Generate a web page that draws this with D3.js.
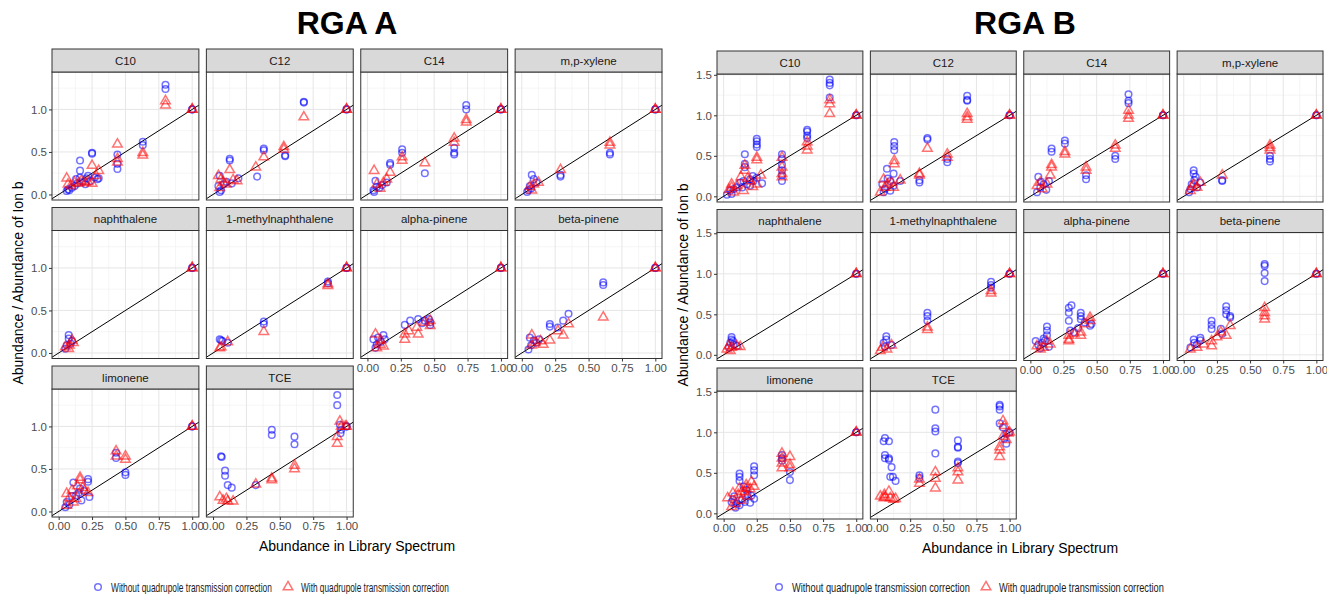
<!DOCTYPE html>
<html>
<head>
<meta charset="utf-8">
<script src="https://cdn.jsdelivr.net/npm/d3@7"></script>
<style>
  body { margin: 0; background: #fff; }
  text { font-family: "Liberation Sans", Arial, sans-serif; }
</style>
</head>
<body>
<div id="chart-area"></div>
<script>
// facets, in facet_wrap order
const panels = ["C10", "C12", "C14", "m,p-xylene", "naphthalene", "1-methylnaphthalene",
  "alpha-pinene", "beta-pinene", "limonene", "TCE"]
const chartTitles = ["RGA A", "RGA B"]
const seriesNames = ["Without quadrupole transmission correction", "With quadrupole transmission correction"]
const xTicks = [0, 0.25, 0.5, 0.75, 1]
const yTicksA = [0, 0.5, 1]
const yTicksB = [0, 0.5, 1, 1.5]

// [panel, abundance in library spectrum, abundance / abundance of ion b]
const rgaA_without = [
  ["C10",0.06,0.04],["C10",0.07,0.06],["C10",0.08,0.05],["C10",0.10,0.08],["C10",0.12,0.10],["C10",0.13,0.18],["C10",0.14,0.13],["C10",0.16,0.40],["C10",0.16,0.28],["C10",0.16,0.20],["C10",0.18,0.15],["C10",0.20,0.12],["C10",0.21,0.19],["C10",0.22,0.22],["C10",0.24,0.16],["C10",0.25,0.49],["C10",0.25,0.48],["C10",0.27,0.20],["C10",0.29,0.18],["C10",0.30,0.19],["C10",0.44,0.47],["C10",0.44,0.36],["C10",0.44,0.30],["C10",0.63,0.62],["C10",0.63,0.58],["C10",0.80,1.29],["C10",0.80,1.24],["C10",1,1],["C10",1,1],
  ["C12",0.68,1.09],["C12",0.68,1.08],["C12",0.38,0.54],["C12",0.38,0.52],["C12",0.33,0.21],["C12",0.54,0.46],["C12",0.54,0.45],["C12",0.125,0.42],["C12",0.125,0.40],["C12",0.05,0.22],["C12",0.04,0.10],["C12",0.06,0.05],["C12",0.05,0.03],["C12",0.08,0.12],["C12",0.10,0.15],["C12",0.19,0.19],["C12",0.14,0.13],["C12",1,1],["C12",1,1],
  ["C14",0.74,1.05],["C14",0.74,1.00],["C14",0.65,0.55],["C14",0.65,0.49],["C14",0.65,0.47],["C14",0.43,0.25],["C14",0.26,0.53],["C14",0.26,0.49],["C14",0.17,0.37],["C14",0.17,0.35],["C14",0.06,0.16],["C14",0.07,0.09],["C14",0.045,0.05],["C14",0.11,0.11],["C14",0.145,0.14],["C14",0.09,0.08],["C14",0.05,0.03],["C14",1,1],["C14",1,1],
  ["m,p-xylene",0.66,0.49],["m,p-xylene",0.66,0.47],["m,p-xylene",0.29,0.23],["m,p-xylene",0.29,0.21],["m,p-xylene",0.075,0.23],["m,p-xylene",0.09,0.18],["m,p-xylene",0.06,0.10],["m,p-xylene",0.05,0.05],["m,p-xylene",0.11,0.14],["m,p-xylene",0.07,0.07],["m,p-xylene",0.04,0.03],["m,p-xylene",1,1],["m,p-xylene",1,1],
  ["naphthalene",0.075,0.21],["naphthalene",0.075,0.17],["naphthalene",0.06,0.09],["naphthalene",0.10,0.14],["naphthalene",0.05,0.05],["naphthalene",0.09,0.11],["naphthalene",1,1],["naphthalene",1,1],
  ["1-methylnaphthalene",0.86,0.84],["1-methylnaphthalene",0.86,0.82],["1-methylnaphthalene",0.38,0.37],["1-methylnaphthalene",0.38,0.34],["1-methylnaphthalene",0.05,0.16],["1-methylnaphthalene",0.06,0.15],["1-methylnaphthalene",0.07,0.14],["1-methylnaphthalene",0.11,0.12],["1-methylnaphthalene",1,1],["1-methylnaphthalene",1,1],
  ["alpha-pinene",0.28,0.33],["alpha-pinene",0.32,0.38],["alpha-pinene",0.38,0.40],["alpha-pinene",0.41,0.35],["alpha-pinene",0.43,0.38],["alpha-pinene",0.46,0.40],["alpha-pinene",0.47,0.36],["alpha-pinene",0.47,0.33],["alpha-pinene",0.045,0.16],["alpha-pinene",0.08,0.18],["alpha-pinene",0.12,0.21],["alpha-pinene",0.13,0.16],["alpha-pinene",0.07,0.10],["alpha-pinene",0.10,0.13],["alpha-pinene",0.06,0.06],["alpha-pinene",1,1],["alpha-pinene",1,1],
  ["beta-pinene",0.61,0.83],["beta-pinene",0.61,0.80],["beta-pinene",0.35,0.46],["beta-pinene",0.31,0.38],["beta-pinene",0.27,0.30],["beta-pinene",0.21,0.34],["beta-pinene",0.21,0.31],["beta-pinene",0.06,0.18],["beta-pinene",0.09,0.15],["beta-pinene",0.13,0.16],["beta-pinene",0.07,0.09],["beta-pinene",0.11,0.12],["beta-pinene",0.05,0.04],["beta-pinene",1,1],["beta-pinene",1,1],
  ["limonene",0.43,0.69],["limonene",0.43,0.63],["limonene",0.50,0.46],["limonene",0.50,0.43],["limonene",0.11,0.34],["limonene",0.22,0.38],["limonene",0.22,0.35],["limonene",0.16,0.27],["limonene",0.23,0.17],["limonene",0.17,0.13],["limonene",0.06,0.11],["limonene",0.10,0.18],["limonene",0.13,0.19],["limonene",0.08,0.08],["limonene",0.15,0.22],["limonene",0.19,0.24],["limonene",0.05,0.05],["limonene",1,1],["limonene",1,1],
  ["TCE",0.93,1.37],["TCE",0.93,1.25],["TCE",0.44,0.96],["TCE",0.44,0.90],["TCE",0.61,0.88],["TCE",0.61,0.79],["TCE",0.06,0.65],["TCE",0.065,0.64],["TCE",0.09,0.48],["TCE",0.09,0.42],["TCE",0.11,0.31],["TCE",0.14,0.28],["TCE",0.32,0.31],["TCE",0.95,1.02],["TCE",0.96,0.96],["TCE",0.955,0.92],["TCE",1,1],["TCE",1,1]
]

const rgaA_with = [
  ["C10",0.06,0.19],["C10",0.07,0.12],["C10",0.09,0.10],["C10",0.12,0.14],["C10",0.15,0.13],["C10",0.17,0.16],["C10",0.20,0.14],["C10",0.22,0.15],["C10",0.25,0.34],["C10",0.25,0.13],["C10",0.28,0.22],["C10",0.30,0.28],["C10",0.44,0.59],["C10",0.44,0.42],["C10",0.44,0.38],["C10",0.63,0.49],["C10",0.63,0.46],["C10",0.80,1.10],["C10",0.80,1.05],["C10",1,1],["C10",1,1],
  ["C12",0.68,0.91],["C12",0.38,0.44],["C12",0.32,0.32],["C12",0.53,0.56],["C12",0.53,0.53],["C12",0.125,0.29],["C12",0.04,0.22],["C12",0.06,0.18],["C12",0.08,0.14],["C12",0.10,0.12],["C12",0.15,0.17],["C12",0.18,0.16],["C12",0.05,0.08],["C12",1,1],["C12",1,1],
  ["C14",0.74,0.88],["C14",0.74,0.85],["C14",0.65,0.66],["C14",0.65,0.61],["C14",0.43,0.37],["C14",0.26,0.44],["C14",0.26,0.40],["C14",0.17,0.26],["C14",0.05,0.28],["C14",0.07,0.12],["C14",0.12,0.14],["C14",0.145,0.18],["C14",0.095,0.07],["C14",1,1],["C14",1,1],
  ["m,p-xylene",0.66,0.61],["m,p-xylene",0.66,0.58],["m,p-xylene",0.29,0.29],["m,p-xylene",0.06,0.09],["m,p-xylene",0.09,0.12],["m,p-xylene",0.125,0.14],["m,p-xylene",0.075,0.05],["m,p-xylene",1,1],["m,p-xylene",1,1],
  ["naphthalene",0.05,0.07],["naphthalene",0.10,0.15],["naphthalene",0.11,0.12],["naphthalene",0.075,0.05],["naphthalene",0.08,0.09],["naphthalene",1,1],["naphthalene",1,1],
  ["1-methylnaphthalene",0.86,0.81],["1-methylnaphthalene",0.86,0.79],["1-methylnaphthalene",0.38,0.25],["1-methylnaphthalene",0.06,0.07],["1-methylnaphthalene",0.11,0.13],["1-methylnaphthalene",0.05,0.06],["1-methylnaphthalene",1,1],["1-methylnaphthalene",1,1],
  ["alpha-pinene",0.06,0.22],["alpha-pinene",0.095,0.10],["alpha-pinene",0.12,0.08],["alpha-pinene",0.07,0.06],["alpha-pinene",0.10,0.15],["alpha-pinene",0.28,0.22],["alpha-pinene",0.28,0.16],["alpha-pinene",0.31,0.26],["alpha-pinene",0.37,0.30],["alpha-pinene",0.38,0.22],["alpha-pinene",0.47,0.38],["alpha-pinene",0.47,0.32],["alpha-pinene",0.43,0.36],["alpha-pinene",1,1],["alpha-pinene",1,1],
  ["beta-pinene",0.61,0.42],["beta-pinene",0.35,0.34],["beta-pinene",0.31,0.21],["beta-pinene",0.27,0.26],["beta-pinene",0.21,0.15],["beta-pinene",0.075,0.21],["beta-pinene",0.075,0.09],["beta-pinene",0.14,0.14],["beta-pinene",0.16,0.10],["beta-pinene",0.10,0.12],["beta-pinene",1,1],["beta-pinene",1,1],
  ["limonene",0.43,0.71],["limonene",0.43,0.65],["limonene",0.50,0.65],["limonene",0.50,0.61],["limonene",0.16,0.40],["limonene",0.16,0.37],["limonene",0.06,0.21],["limonene",0.10,0.25],["limonene",0.195,0.25],["limonene",0.22,0.22],["limonene",0.13,0.15],["limonene",0.06,0.07],["limonene",0.18,0.28],["limonene",0.11,0.11],["limonene",0.08,0.16],["limonene",0.14,0.30],["limonene",1,1],["limonene",1,1],
  ["TCE",0.93,0.88],["TCE",0.93,0.80],["TCE",0.95,1.06],["TCE",0.96,1.00],["TCE",0.99,1.00],["TCE",0.61,0.54],["TCE",0.61,0.50],["TCE",0.44,0.39],["TCE",0.44,0.37],["TCE",0.32,0.32],["TCE",0.05,0.17],["TCE",0.075,0.13],["TCE",0.11,0.12],["TCE",0.15,0.12],["TCE",0.10,0.15],["TCE",1,1]
]

const rgaB_without = [
  ["C10",0.80,1.44],["C10",0.80,1.40],["C10",0.80,1.37],["C10",0.80,1.22],["C10",0.63,0.82],["C10",0.63,0.80],["C10",0.63,0.75],["C10",0.63,0.72],["C10",0.44,0.52],["C10",0.44,0.46],["C10",0.44,0.39],["C10",0.44,0.32],["C10",0.44,0.26],["C10",0.44,0.19],["C10",0.25,0.71],["C10",0.25,0.68],["C10",0.25,0.64],["C10",0.25,0.61],["C10",0.16,0.52],["C10",0.16,0.40],["C10",0.16,0.36],["C10",0.29,0.16],["C10",0.05,0.07],["C10",0.075,0.09],["C10",0.10,0.11],["C10",0.125,0.17],["C10",0.15,0.19],["C10",0.175,0.15],["C10",0.20,0.21],["C10",0.225,0.19],["C10",0.25,0.23],["C10",0.14,0.11],["C10",0.06,0.03],["C10",0.025,0.02],["C10",0.20,0.13],["C10",0.22,0.25],["C10",1,1],["C10",1,1],
  ["C12",0.68,1.24],["C12",0.68,1.19],["C12",0.68,1.18],["C12",0.38,0.72],["C12",0.38,0.70],["C12",0.53,0.46],["C12",0.53,0.42],["C12",0.32,0.20],["C12",0.32,0.17],["C12",0.13,0.67],["C12",0.13,0.62],["C12",0.13,0.57],["C12",0.075,0.34],["C12",0.125,0.28],["C12",0.04,0.15],["C12",0.06,0.09],["C12",0.10,0.19],["C12",0.125,0.13],["C12",0.175,0.19],["C12",0.05,0.05],["C12",0.10,0.07],["C12",0.08,0.22],["C12",1,1],["C12",1,1],
  ["C14",0.74,1.26],["C14",0.74,1.18],["C14",0.74,1.15],["C14",0.26,0.69],["C14",0.26,0.65],["C14",0.16,0.59],["C14",0.16,0.55],["C14",0.64,0.50],["C14",0.64,0.46],["C14",0.42,0.26],["C14",0.42,0.21],["C14",0.06,0.24],["C14",0.075,0.11],["C14",0.05,0.05],["C14",0.10,0.15],["C14",0.14,0.19],["C14",0.08,0.18],["C14",0.12,0.08],["C14",1,1],["C14",1,1],
  ["m,p-xylene",0.65,0.50],["m,p-xylene",0.65,0.46],["m,p-xylene",0.65,0.43],["m,p-xylene",0.29,0.20],["m,p-xylene",0.29,0.19],["m,p-xylene",0.075,0.32],["m,p-xylene",0.075,0.28],["m,p-xylene",0.09,0.24],["m,p-xylene",0.06,0.15],["m,p-xylene",0.05,0.09],["m,p-xylene",0.10,0.11],["m,p-xylene",0.125,0.17],["m,p-xylene",0.04,0.05],["m,p-xylene",0.08,0.20],["m,p-xylene",1,1],["m,p-xylene",1,1],
  ["naphthalene",0.06,0.22],["naphthalene",0.06,0.19],["naphthalene",0.07,0.17],["naphthalene",0.075,0.13],["naphthalene",0.04,0.09],["naphthalene",0.10,0.11],["naphthalene",0.05,0.15],["naphthalene",1,1],["naphthalene",1,1],
  ["1-methylnaphthalene",0.86,0.90],["1-methylnaphthalene",0.86,0.86],["1-methylnaphthalene",0.86,0.83],["1-methylnaphthalene",0.38,0.52],["1-methylnaphthalene",0.38,0.48],["1-methylnaphthalene",0.38,0.42],["1-methylnaphthalene",0.07,0.23],["1-methylnaphthalene",0.07,0.19],["1-methylnaphthalene",0.05,0.15],["1-methylnaphthalene",0.11,0.12],["1-methylnaphthalene",0.06,0.10],["1-methylnaphthalene",1,1],["1-methylnaphthalene",1,1],
  ["alpha-pinene",0.29,0.58],["alpha-pinene",0.29,0.52],["alpha-pinene",0.29,0.42],["alpha-pinene",0.31,0.61],["alpha-pinene",0.38,0.52],["alpha-pinene",0.38,0.48],["alpha-pinene",0.38,0.44],["alpha-pinene",0.46,0.38],["alpha-pinene",0.45,0.36],["alpha-pinene",0.125,0.35],["alpha-pinene",0.125,0.30],["alpha-pinene",0.125,0.24],["alpha-pinene",0.04,0.17],["alpha-pinene",0.06,0.12],["alpha-pinene",0.09,0.15],["alpha-pinene",0.11,0.18],["alpha-pinene",0.14,0.10],["alpha-pinene",0.075,0.08],["alpha-pinene",0.30,0.30],["alpha-pinene",0.33,0.28],["alpha-pinene",0.36,0.33],["alpha-pinene",0.41,0.40],["alpha-pinene",0.10,0.20],["alpha-pinene",1,1],["alpha-pinene",1,1],
  ["beta-pinene",0.61,1.12],["beta-pinene",0.61,1.10],["beta-pinene",0.61,1.01],["beta-pinene",0.61,0.91],["beta-pinene",0.32,0.60],["beta-pinene",0.32,0.55],["beta-pinene",0.32,0.50],["beta-pinene",0.35,0.48],["beta-pinene",0.35,0.46],["beta-pinene",0.21,0.42],["beta-pinene",0.21,0.37],["beta-pinene",0.21,0.32],["beta-pinene",0.28,0.32],["beta-pinene",0.29,0.26],["beta-pinene",0.075,0.19],["beta-pinene",0.125,0.21],["beta-pinene",0.05,0.09],["beta-pinene",0.10,0.13],["beta-pinene",0.125,0.18],["beta-pinene",0.08,0.15],["beta-pinene",1,1],["beta-pinene",1,1],
  ["limonene",0.44,0.72],["limonene",0.44,0.68],["limonene",0.44,0.65],["limonene",0.50,0.51],["limonene",0.50,0.41],["limonene",0.23,0.58],["limonene",0.23,0.53],["limonene",0.23,0.47],["limonene",0.12,0.49],["limonene",0.12,0.45],["limonene",0.12,0.40],["limonene",0.23,0.18],["limonene",0.16,0.14],["limonene",0.12,0.10],["limonene",0.06,0.14],["limonene",0.17,0.29],["limonene",0.08,0.21],["limonene",0.14,0.17],["limonene",0.18,0.24],["limonene",0.10,0.12],["limonene",0.20,0.13],["limonene",0.07,0.17],["limonene",0.15,0.33],["limonene",0.21,0.22],["limonene",0.09,0.07],["limonene",1,1],["limonene",1,1],
  ["TCE",0.925,1.34],["TCE",0.925,1.32],["TCE",0.925,1.28],["TCE",0.925,1.11],["TCE",0.95,1.06],["TCE",0.975,0.98],["TCE",0.96,0.92],["TCE",0.975,0.86],["TCE",0.44,1.28],["TCE",0.44,1.05],["TCE",0.44,1.01],["TCE",0.44,0.74],["TCE",0.61,0.90],["TCE",0.61,0.82],["TCE",0.61,0.81],["TCE",0.61,0.64],["TCE",0.61,0.62],["TCE",0.32,0.47],["TCE",0.32,0.44],["TCE",0.06,0.93],["TCE",0.05,0.89],["TCE",0.09,0.89],["TCE",0.06,0.72],["TCE",0.06,0.68],["TCE",0.09,0.68],["TCE",0.09,0.66],["TCE",0.11,0.57],["TCE",0.10,0.45],["TCE",0.12,0.45],["TCE",0.14,0.40],["TCE",1,1]
]

const rgaB_with = [
  ["C10",0.80,1.19],["C10",0.80,1.14],["C10",0.80,1.02],["C10",0.63,0.67],["C10",0.63,0.62],["C10",0.63,0.57],["C10",0.44,0.48],["C10",0.44,0.36],["C10",0.44,0.28],["C10",0.44,0.24],["C10",0.25,0.48],["C10",0.25,0.45],["C10",0.16,0.38],["C10",0.16,0.32],["C10",0.06,0.15],["C10",0.06,0.11],["C10",0.28,0.26],["C10",0.13,0.24],["C10",0.20,0.19],["C10",0.25,0.15],["C10",0.075,0.05],["C10",0.15,0.07],["C10",0.10,0.13],["C10",0.18,0.22],["C10",0.22,0.12],["C10",0.04,0.08],["C10",1,1],["C10",1,1],
  ["C12",0.68,1.02],["C12",0.68,0.98],["C12",0.68,0.95],["C12",0.38,0.59],["C12",0.53,0.52],["C12",0.53,0.48],["C12",0.32,0.28],["C12",0.32,0.26],["C12",0.13,0.44],["C12",0.13,0.40],["C12",0.05,0.21],["C12",0.06,0.11],["C12",0.11,0.17],["C12",0.175,0.20],["C12",0.125,0.11],["C12",0.025,0.05],["C12",0.08,0.15],["C12",1,1],["C12",1,1],
  ["C14",0.74,1.06],["C14",0.74,1.00],["C14",0.74,0.96],["C14",0.26,0.55],["C14",0.26,0.52],["C14",0.16,0.39],["C14",0.16,0.36],["C14",0.64,0.63],["C14",0.64,0.59],["C14",0.42,0.36],["C14",0.42,0.32],["C14",0.15,0.26],["C14",0.05,0.13],["C14",0.075,0.17],["C14",0.125,0.15],["C14",0.09,0.09],["C14",1,1],["C14",1,1],
  ["m,p-xylene",0.65,0.63],["m,p-xylene",0.65,0.60],["m,p-xylene",0.65,0.57],["m,p-xylene",0.29,0.26],["m,p-xylene",0.125,0.17],["m,p-xylene",0.075,0.15],["m,p-xylene",0.05,0.07],["m,p-xylene",0.10,0.11],["m,p-xylene",0.06,0.12],["m,p-xylene",1,1],["m,p-xylene",1,1],
  ["naphthalene",0.025,0.07],["naphthalene",0.06,0.09],["naphthalene",0.10,0.11],["naphthalene",0.05,0.05],["naphthalene",0.125,0.10],["naphthalene",0.04,0.11],["naphthalene",1,1],["naphthalene",1,1],
  ["1-methylnaphthalene",0.86,0.79],["1-methylnaphthalene",0.86,0.76],["1-methylnaphthalene",0.38,0.34],["1-methylnaphthalene",0.38,0.31],["1-methylnaphthalene",0.04,0.09],["1-methylnaphthalene",0.075,0.07],["1-methylnaphthalene",0.11,0.12],["1-methylnaphthalene",0.025,0.05],["1-methylnaphthalene",1,1],["1-methylnaphthalene",1,1],
  ["alpha-pinene",0.29,0.24],["alpha-pinene",0.29,0.19],["alpha-pinene",0.29,0.17],["alpha-pinene",0.38,0.28],["alpha-pinene",0.38,0.24],["alpha-pinene",0.45,0.46],["alpha-pinene",0.45,0.42],["alpha-pinene",0.41,0.38],["alpha-pinene",0.05,0.11],["alpha-pinene",0.10,0.09],["alpha-pinene",0.15,0.13],["alpha-pinene",0.075,0.07],["alpha-pinene",0.125,0.17],["alpha-pinene",0.33,0.26],["alpha-pinene",1,1],["alpha-pinene",1,1],
  ["beta-pinene",0.61,0.58],["beta-pinene",0.61,0.52],["beta-pinene",0.61,0.48],["beta-pinene",0.61,0.44],["beta-pinene",0.35,0.36],["beta-pinene",0.28,0.28],["beta-pinene",0.32,0.24],["beta-pinene",0.21,0.17],["beta-pinene",0.21,0.11],["beta-pinene",0.05,0.07],["beta-pinene",0.10,0.09],["beta-pinene",0.15,0.13],["beta-pinene",0.25,0.22],["beta-pinene",1,1],["beta-pinene",1,1],
  ["limonene",0.44,0.74],["limonene",0.44,0.68],["limonene",0.44,0.62],["limonene",0.44,0.56],["limonene",0.50,0.70],["limonene",0.50,0.60],["limonene",0.50,0.56],["limonene",0.17,0.35],["limonene",0.17,0.31],["limonene",0.21,0.39],["limonene",0.23,0.33],["limonene",0.03,0.19],["limonene",0.07,0.25],["limonene",0.11,0.23],["limonene",0.14,0.27],["limonene",0.09,0.12],["limonene",0.06,0.08],["limonene",0.13,0.16],["limonene",0.18,0.21],["limonene",0.16,0.26],["limonene",0.20,0.30],["limonene",0.12,0.31],["limonene",1,1],["limonene",1,1],
  ["TCE",0.95,1.14],["TCE",0.96,1.08],["TCE",0.99,0.99],["TCE",0.95,0.95],["TCE",0.925,0.82],["TCE",0.925,0.78],["TCE",0.925,0.70],["TCE",0.975,0.91],["TCE",0.61,0.56],["TCE",0.61,0.51],["TCE",0.61,0.41],["TCE",0.44,0.51],["TCE",0.44,0.43],["TCE",0.44,0.31],["TCE",0.32,0.42],["TCE",0.32,0.37],["TCE",0.025,0.21],["TCE",0.055,0.23],["TCE",0.09,0.27],["TCE",0.05,0.19],["TCE",0.10,0.19],["TCE",0.125,0.17],["TCE",0.06,0.20],["TCE",0.14,0.18],["TCE",1,1]
]

const WIDTH = 1327
const HEIGHT = 594
const GAP = 7.5
const ROW_STEP = 158.5
const STRIP_H = 23
const PANEL_H = 128

const charts = [
  { title: chartTitles[0], without: rgaA_without, with: rgaA_with, left: 52, right: 662, titleX: 347, stripTop: 49,
    yDomain: [-0.065, 1.44], yTicks: yTicksA, legendX: 98, legendLen: [161, 148] },
  { title: chartTitles[1], without: rgaB_without, with: rgaB_with, left: 717, right: 1323, titleX: 1025, stripTop: 51,
    yDomain: [-0.07, 1.51], yTicks: yTicksB, legendX: 779, legendLen: [178, 165] }
]

const svg = d3.select("#chart-area").append("svg")
  .attr("width", WIDTH)
  .attr("height", HEIGHT)

svg.append("rect").attr("width", WIDTH).attr("height", HEIGHT).attr("fill", "#fff")

const BLUE = "rgba(0,0,255,0.55)"
const RED = "rgba(255,0,0,0.55)"
const triangle = d3.symbol(d3.symbolTriangle, 40)

// squeeze a text horizontally to a given width
function squeezed(parent, x, y, width, label) {
  const t = parent.append("text")
    .attr("font-size", "13.5px").attr("fill", "#1A1A1A")
    .text(label)
  const w = t.node().getComputedTextLength()
  t.attr("transform", `translate(${x},${y}) scale(${width / w},1)`)
  return t
}

charts.forEach((c, ci) => {
  const g = svg.append("g")
  const pw = (c.right - c.left - 3 * GAP) / 4

  // title
  g.append("text")
    .attr("x", c.titleX)
    .attr("y", 34)
    .attr("text-anchor", "middle")
    .attr("font-size", "32px")
    .attr("font-weight", "bold")
    .attr("fill", "#000")
    .text(c.title)

  panels.forEach((name, i) => {
    const col = i % 4
    const row = Math.floor(i / 4)
    const px = c.left + col * (pw + GAP)
    const sTop = c.stripTop + row * ROW_STEP
    const top = sTop + STRIP_H
    const bottom = top + PANEL_H

    const x = d3.scaleLinear().domain([-0.05, 1.05]).range([px, px + pw])
    const y = d3.scaleLinear().domain(c.yDomain).range([bottom, top])

    const p = g.append("g")
    const clipId = `clip-${ci}-${i}`
    p.append("clipPath").attr("id", clipId)
      .append("rect").attr("x", px).attr("y", top).attr("width", pw).attr("height", PANEL_H)

    // grid
    const minorX = [0.125, 0.375, 0.625, 0.875]
    const minorY = [0.25, 0.75, 1.25].filter(v => v < c.yDomain[1])
    p.selectAll(".gmx").data(minorX).enter().append("line")
      .attr("x1", d => x(d)).attr("x2", d => x(d)).attr("y1", top).attr("y2", bottom)
      .attr("stroke", "#F0F0F0").attr("stroke-width", 0.6)
    p.selectAll(".gmy").data(minorY).enter().append("line")
      .attr("y1", d => y(d)).attr("y2", d => y(d)).attr("x1", px).attr("x2", px + pw)
      .attr("stroke", "#F0F0F0").attr("stroke-width", 0.6)
    p.selectAll(".gx").data(xTicks).enter().append("line")
      .attr("x1", d => x(d)).attr("x2", d => x(d)).attr("y1", top).attr("y2", bottom)
      .attr("stroke", "#E6E6E6").attr("stroke-width", 1)
    p.selectAll(".gy").data(c.yTicks).enter().append("line")
      .attr("y1", d => y(d)).attr("y2", d => y(d)).attr("x1", px).attr("x2", px + pw)
      .attr("stroke", "#E6E6E6").attr("stroke-width", 1)

    const marks = p.append("g").attr("clip-path", `url(#${clipId})`)

    // 1:1 line
    const lo = Math.max(-0.05, c.yDomain[0]), hi = Math.min(1.05, c.yDomain[1])
    marks.append("line")
      .attr("x1", x(lo)).attr("y1", y(lo)).attr("x2", x(hi)).attr("y2", y(hi))
      .attr("stroke", "#000").attr("stroke-width", 1)

    marks.selectAll(".circ").data(c.without.filter(d => d[0] === name)).enter().append("circle")
      .attr("cx", d => x(d[1])).attr("cy", d => y(d[2])).attr("r", 3.3)
      .attr("fill", "none").attr("stroke", BLUE).attr("stroke-width", 1.5)

    marks.selectAll(".tri").data(c.with.filter(d => d[0] === name)).enter().append("path")
      .attr("d", triangle)
      .attr("transform", d => `translate(${x(d[1])},${y(d[2])})`)
      .attr("fill", "none").attr("stroke", RED).attr("stroke-width", 1.5)

    // border
    p.append("rect").attr("x", px).attr("y", top).attr("width", pw).attr("height", PANEL_H)
      .attr("fill", "none").attr("stroke", "#333").attr("stroke-width", 1)

    // strip
    p.append("rect").attr("x", px).attr("y", sTop).attr("width", pw).attr("height", STRIP_H)
      .attr("fill", "#D9D9D9").attr("stroke", "#333").attr("stroke-width", 1)
    p.append("text")
      .attr("x", px + pw / 2).attr("y", sTop + STRIP_H / 2 + 4)
      .attr("text-anchor", "middle").attr("font-size", "11.5px").attr("fill", "#1A1A1A")
      .text(name)

    // x axis on the lowest panel of each column
    if (i + 4 >= panels.length) {
      const xa = p.append("g")
        .attr("transform", `translate(0, ${bottom})`)
        .call(d3.axisBottom(x).tickValues(xTicks).tickFormat(d3.format(".2f")).tickSize(3).tickPadding(2))
      xa.select(".domain").remove()
      xa.selectAll("line").attr("stroke", "#333")
      xa.selectAll("text").attr("fill", "#4D4D4D").attr("font-size", "11.5px")
        .attr("font-family", "Liberation Sans, Arial, sans-serif")
    }
    if (col === 0) {
      const ya = p.append("g")
        .attr("transform", `translate(${px}, 0)`)
        .call(d3.axisLeft(y).tickValues(c.yTicks).tickFormat(d3.format(".1f")).tickSize(3).tickPadding(2))
      ya.select(".domain").remove()
      ya.selectAll("line").attr("stroke", "#333")
      ya.selectAll("text").attr("fill", "#4D4D4D").attr("font-size", "11.5px")
        .attr("font-family", "Liberation Sans, Arial, sans-serif")
    }
  })

  const lastBottom = c.stripTop + 2 * ROW_STEP + STRIP_H + PANEL_H

  // X label
  g.append("text")
    .attr("x", (c.left + c.right) / 2)
    .attr("y", lastBottom + 34)
    .attr("text-anchor", "middle")
    .attr("font-size", "14px")
    .attr("fill", "#000")
    .text("Abundance in Library Spectrum")

  // Y label
  g.append("text")
    .attr("transform", "rotate(-90)")
    .attr("x", -(c.stripTop + lastBottom) / 2)
    .attr("y", c.left - 29)
    .attr("text-anchor", "middle")
    .attr("font-size", "14px")
    .attr("fill", "#000")
    .text("Abundance / Abundance of Ion b")

  // legend
  const ly = 587
  g.append("circle").attr("cx", c.legendX).attr("cy", ly).attr("r", 3.3)
    .attr("fill", "none").attr("stroke", BLUE).attr("stroke-width", 1.5)
  squeezed(g, c.legendX + 13, ly + 4.5, c.legendLen[0], seriesNames[0])
  const tx = c.legendX + 13 + c.legendLen[0] + 16
  g.append("path").attr("d", triangle).attr("transform", `translate(${tx},${ly})`)
    .attr("fill", "none").attr("stroke", RED).attr("stroke-width", 1.5)
  squeezed(g, tx + 13, ly + 4.5, c.legendLen[1], seriesNames[1])
})
</script>
</body>
</html>
